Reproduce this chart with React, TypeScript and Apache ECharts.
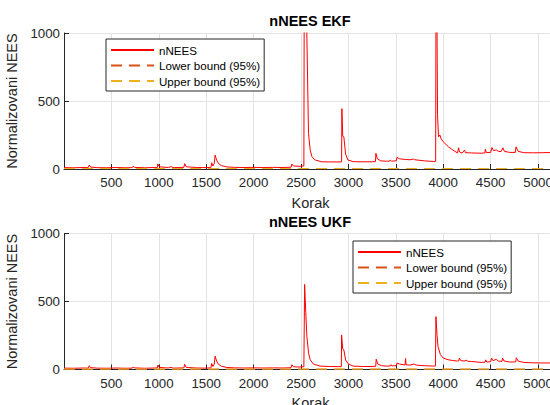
import React, { useEffect, useRef } from "react";
import * as echarts from "echarts";

// Step index (Korak) and normalized NEES values, EKF
const ekfSteps = [0, 100, 200, 255, 267, 280, 350, 450, 550, 650, 720, 728, 745, 850, 950, 985, 990, 1005, 1100, 1130, 1150, 1265, 1272, 1290, 1400, 1500, 1550, 1558, 1570, 1585, 1594, 1610, 1630, 1660, 1720, 1800, 1900, 2000, 2100, 2200, 2300, 2395, 2403, 2420, 2480, 2530, 2538, 2560, 2579, 2597, 2615, 2649, 2720, 2800, 2900, 2928, 2931, 2940, 2952, 2970, 2995, 3050, 3150, 3250, 3285, 3290, 3305, 3340, 3400, 3435, 3441, 3455, 3505, 3512, 3540, 3600, 3650, 3686, 3700, 3800, 3900, 3920, 3926, 3940, 3950, 3965, 3976, 4000, 4056, 4100, 4150, 4162, 4172, 4200, 4225, 4235, 4300, 4400, 4440, 4444, 4455, 4500, 4514, 4530, 4560, 4580, 4610, 4630, 4645, 4700, 4760, 4768, 4790, 4850, 4950, 5050, 5150, 5200];
const ekfValues = [10, 9, 11, 10, 30, 14, 10, 9, 11, 9, 10, 20, 12, 9, 11, 12, 37, 16, 11, 18, 10, 12, 39, 16, 11, 10, 12, 46, 22, 40, 102, 65, 40, 25, 15, 12, 11, 12, 11, 12, 11, 13, 37, 22, 20, 22, 2600, 1050, 262, 139, 90, 66, 53, 52, 52, 53, 444, 240, 236, 110, 66, 54, 53, 53, 55, 115, 75, 60, 57, 58, 66, 58, 60, 85, 75, 70, 68, 73, 68, 60, 55, 56, 2000, 400, 236, 250, 224, 200, 163, 140, 118, 156, 125, 117, 139, 120, 118, 116, 118, 146, 120, 122, 158, 135, 140, 130, 128, 156, 130, 122, 122, 163, 130, 120, 119, 120, 121, 124];

// Step index and normalized NEES values, UKF
const ukfSteps = [0, 100, 200, 255, 267, 280, 350, 450, 550, 650, 720, 728, 745, 850, 950, 985, 990, 1005, 1100, 1130, 1150, 1265, 1272, 1290, 1400, 1500, 1550, 1558, 1570, 1585, 1594, 1610, 1630, 1660, 1720, 1800, 1900, 2000, 2100, 2200, 2300, 2395, 2403, 2420, 2480, 2530, 2538, 2550, 2562, 2580, 2597, 2630, 2700, 2800, 2900, 2925, 2928, 2940, 2952, 2970, 3000, 3050, 3150, 3250, 3288, 3293, 3310, 3350, 3400, 3440, 3447, 3460, 3505, 3512, 3540, 3598, 3603, 3608, 3650, 3690, 3720, 3800, 3900, 3918, 3923, 3935, 3945, 3970, 4000, 4050, 4100, 4150, 4165, 4170, 4185, 4230, 4240, 4260, 4300, 4400, 4442, 4447, 4460, 4500, 4510, 4525, 4560, 4580, 4620, 4626, 4640, 4700, 4765, 4771, 4790, 4850, 4950, 5050, 5150, 5200];
const ukfValues = [10, 9, 11, 10, 28, 14, 10, 9, 11, 9, 10, 18, 12, 9, 11, 12, 33, 15, 11, 16, 10, 12, 38, 15, 11, 10, 12, 44, 22, 40, 98, 62, 38, 24, 15, 12, 11, 12, 11, 12, 11, 13, 35, 20, 18, 20, 626, 420, 242, 120, 71, 40, 25, 22, 21, 22, 254, 150, 144, 70, 40, 25, 22, 22, 24, 76, 40, 28, 25, 26, 36, 27, 28, 47, 40, 33, 81, 35, 32, 40, 32, 28, 25, 26, 389, 250, 169, 110, 84, 72, 66, 62, 64, 84, 65, 62, 70, 60, 59, 52, 54, 71, 55, 58, 84, 65, 75, 62, 60, 84, 63, 55, 56, 86, 62, 52, 49, 48, 48, 49];

// 95% confidence bounds (constant over all steps)
const boundSteps = [0, 5200];
const lowerBound = [2.7, 2.7];
const upperBound = [3.3, 3.3];

const xTickLabels = [500, 1000, 1500, 2000, 2500, 3000, 3500, 4000, 4500, 5000];
const yTicks = [0, 500, 1000];
const titles = ["nNEES EKF", "nNEES UKF"];
const names = ["nNEES", "Lower bound (95%)", "Upper bound (95%)"];

const FONT = "'Liberation Sans', Arial, Helvetica, sans-serif";
const AX = "#262626";

const pair = (xs: number[], ys: number[]) => xs.map((x, i) => [x, ys[i]]);

export default function App() {
  const ref = useRef<HTMLDivElement>(null);
  useEffect(() => {
    if (!ref.current) return;
    const chart = echarts.init(ref.current, undefined, { renderer: "svg" });
    const grids = [
      { left: 64, top: 33, width: 493, height: 136, outerBoundsMode: "none", containLabel: false },
      { left: 64, top: 233.5, width: 493, height: 136, outerBoundsMode: "none", containLabel: false },
    ];
    const xAxes = grids.map((_, i) => ({
      type: "value",
      gridIndex: i,
      min: 0,
      max: 5200,
      interval: 500,
      name: "Korak",
      nameLocation: "middle",
      nameGap: 26,
      nameTextStyle: { fontFamily: FONT, fontSize: 14.5, color: AX },
      axisLine: { show: true, onZero: false, lineStyle: { color: AX, width: 1 } },
      axisTick: { show: true, inside: true, length: 5, lineStyle: { color: AX } },
      axisLabel: {
        margin: 7,
        fontFamily: FONT,
        fontSize: 13.3,
        color: AX,
        formatter: (v: number) => (xTickLabels.indexOf(v) >= 0 ? String(v) : ""),
      },
      splitLine: { show: true, lineStyle: { color: "#E3E3E3", width: 1 } },
    }));
    const yAxes = grids.map((_, i) => ({
      type: "value",
      gridIndex: i,
      min: yTicks[0],
      max: yTicks[yTicks.length - 1],
      interval: 500,
      name: "Normalizovani NEES",
      nameLocation: "middle",
      nameGap: 40,
      nameTextStyle: { fontFamily: FONT, fontSize: 14.5, color: AX },
      axisLine: { show: true, lineStyle: { color: AX, width: 1 } },
      axisTick: { show: true, inside: true, length: 5, lineStyle: { color: AX } },
      axisLabel: {
        margin: 4,
        fontFamily: FONT,
        fontSize: 13.3,
        color: AX,
        formatter: (v: number) => (yTicks.indexOf(v) >= 0 ? String(v) : ""),
      },
      splitLine: { show: true, lineStyle: { color: "#E3E3E3", width: 1 } },
    }));
    const series: any[] = [];
    [pair(ekfSteps, ekfValues), pair(ukfSteps, ukfValues)].forEach((d, i) => {
      series.push({
        name: names[0],
        type: "line",
        xAxisIndex: i,
        yAxisIndex: i,
        data: d,
        symbol: "none",
        clip: true,
        lineStyle: { color: "#FF0000", width: 1 },
        itemStyle: { color: "#FF0000" },
      });
      series.push({
        name: names[1],
        type: "line",
        xAxisIndex: i,
        yAxisIndex: i,
        data: pair(boundSteps, lowerBound),
        symbol: "none",
        lineStyle: { color: "#D95319", width: 1, type: [11, 7] },
        itemStyle: { color: "#D95319" },
      });
      series.push({
        name: names[2],
        type: "line",
        xAxisIndex: i,
        yAxisIndex: i,
        data: pair(boundSteps, upperBound),
        symbol: "none",
        lineStyle: { color: "#EDB120", width: 1, type: [11, 7] },
        itemStyle: { color: "#EDB120" },
      });
    });
    const legendBase = {
      orient: "vertical",
      data: names,
      itemWidth: 43,
      itemHeight: 12,
      itemGap: 3.5,
      padding: [5, 4, 4, 4],
      borderColor: AX,
      borderWidth: 1,
      borderRadius: 0,
      backgroundColor: "#FFFFFF",
      selectedMode: false,
      itemStyle: { opacity: 0, borderWidth: 0 },
      textStyle: { fontFamily: FONT, fontSize: 11.6, color: "#000000" },
    };
    chart.setOption({
      animation: false,
      backgroundColor: "#FFFFFF",
      grid: grids,
      xAxis: xAxes,
      yAxis: yAxes,
      series,
      legend: [
        { ...legendBase, left: 106, top: 39 },
        { ...legendBase, left: 353, top: 241 },
      ],
      graphic: [
        {
          type: "text",
          x: 310,
          y: 20.5,
          z: 100,
          style: { text: titles[0], align: "center", verticalAlign: "middle", font: `bold 14.5px ${FONT}`, fill: "#000" },
        },
        {
          type: "text",
          x: 310,
          y: 221.5,
          z: 100,
          style: { text: titles[1], align: "center", verticalAlign: "middle", font: `bold 14.5px ${FONT}`, fill: "#000" },
        },
      ],
    });
    return () => chart.dispose();
  }, []);
  return (
    <div
      ref={ref}
      style={{ position: "absolute", left: 0, top: 0, width: 550, height: 405, background: "#fff" }}
    />
  );
}
